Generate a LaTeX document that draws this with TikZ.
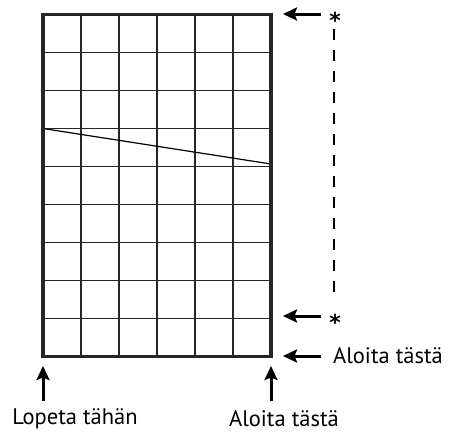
\documentclass[tikz,border=0pt]{standalone}
\usepackage{fontspec}
\setmainfont{PT Sans}
\newfontfamily\starfont{DejaVu Sans}
\usetikzlibrary{arrows.meta}
\begin{document}
\begin{tikzpicture}[x=1pt,y=-1pt,line cap=butt,line join=miter,
		>={Stealth[length=14pt,width=13pt,inset=2.5pt]},
		gridline/.style={line width=1.3pt,black!85},
		pointer/.style={->,line width=3pt},
		label/.style={font=\fontsize{22.5}{25}\selectfont,inner sep=0pt},
		star/.style={font=\starfont\bfseries\fontsize{22}{24}\selectfont,inner sep=0pt}]
	\useasboundingbox (0,0) rectangle (460,434);
	% ruudukko
	\foreach \x in {1,...,5}{
		\draw[gridline] (43+38*\x,14.5)--(43+38*\x,356.5);
	}
	\foreach \y in {1,...,8}{
		\draw[gridline] (43,14.5+38*\y)--(271,14.5+38*\y);
	}
	\draw[line width=1.2pt] (43,128.5)--(271,164);
	\draw[line width=3.2pt,black!85] (43,14.5) rectangle (271,356.5);
	% tähdet ja nuolet
	\node[star] (startop) at (335,20) {*};
	\node[star] (starbot) at (335,322) {*};
	\node[label,anchor=west] (aloitaR) at (333,356) {Aloita tästä};
	\coordinate (tipTop) at (283,14);
	\coordinate (tipBot) at (283,316);
	\coordinate (tipR) at (283,356);
	\draw[pointer] (321,14)--(tipTop);
	\draw[pointer] (321,316)--(tipBot);
	\draw[pointer] (321,356)--(tipR);
	\draw[line width=2.6pt,dash pattern=on 11pt off 10pt] (334,29)--(334,295);
	\node[label] (lopeta) at (75,419) {Lopeta tähän};
	\node[label] (aloitaB) at (284,419) {Aloita tästä};
	\coordinate (tipL) at (43,366);
	\coordinate (tipB) at (271,366);
	\draw[pointer] (43,401)--(tipL);
	\draw[pointer] (271,401)--(tipB);
\end{tikzpicture}
\end{document}
